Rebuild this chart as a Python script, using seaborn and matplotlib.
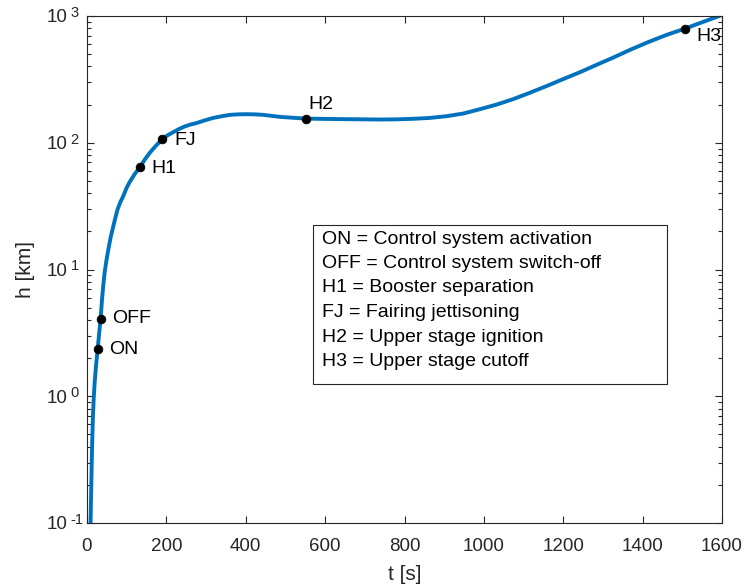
import numpy as np
import pandas as pd
import matplotlib
matplotlib.use("Agg")
import matplotlib.pyplot as plt
import matplotlib.ticker as mticker
from matplotlib.patches import Rectangle
import seaborn as sns

# ---- data ----
t_curve = [9, 10, 11, 12.6, 15, 17, 19.3, 23, 26.9, 30.5, 34.4, 37.8, 41, 44.5,
           49, 53.8, 60, 66.4, 72, 77.3, 84, 91.5, 99, 106.7, 120, 133.5, 146,
           158.7, 174, 189.8, 203, 217, 230, 245, 260, 276, 296, 318, 340, 360,
           380, 402, 423, 444, 465, 486, 518, 552, 582, 612, 654, 696, 738,
           780, 822, 864, 906, 948, 990, 1032, 1074, 1116, 1158, 1200, 1242,
           1284, 1326, 1368, 1410, 1458, 1507, 1551, 1595]
h_curve = [0.10, 0.15, 0.21, 0.38, 0.70, 0.97, 1.28, 1.78, 2.35, 3.1, 4.10, 5.8,
           7.5, 9.5, 11.8, 14.4, 18.2, 22, 26, 30, 34, 38, 43.5, 48.5, 56.5,
           64.4, 74, 83.7, 95, 106.6, 114.5, 121, 127.5, 134, 139, 143, 150,
           157, 162, 166, 167.5, 168, 167.5, 166, 163, 160, 157.5, 155, 154.5,
           154, 153.5, 153, 152.5, 153, 154.5, 157, 162, 170, 184, 200, 221,
           248, 280, 318, 360, 412, 470, 540, 615, 705, 796, 895, 1005]

event_names = ["ON", "OFF", "H1", "FJ", "H2", "H3"]
event_t = [26.9, 34.4, 133.5, 189.8, 552, 1507]
event_h = [2.35, 4.10, 64.4, 106.6, 155, 796]

legend_lines = ["ON = Control system activation",
                "OFF = Control system switch-off",
                "H1 = Booster separation",
                "FJ = Fairing jettisoning",
                "H2 = Upper stage ignition",
                "H3 = Upper stage cutoff"]

x_ticks = [0, 200, 400, 600, 800, 1000, 1200, 1400, 1600]
y_ticks = [0.1, 1, 10, 100, 1000]
y_exponents = ["-1", "0", "1", "2", "3"]

# ---- style ----
sns.set_style("ticks")
plt.rcParams["font.family"] = ["Liberation Sans", "DejaVu Sans"]
plt.rcParams["xtick.direction"] = "in"
plt.rcParams["ytick.direction"] = "in"

fig = plt.figure(figsize=(7.51, 5.88), dpi=100)
ax = fig.add_axes([87 / 751, 1 - 523 / 588, 635 / 751, 507 / 588])

curve = pd.DataFrame({"t": t_curve, "h": h_curve})
events = pd.DataFrame({"t": event_t, "h": event_h, "name": event_names})

sns.lineplot(data=curve, x="t", y="h", ax=ax, color="#0072BD", lw=2.8,
             sort=False, zorder=2)
sns.scatterplot(data=events, x="t", y="h", ax=ax, color="black", s=40,
                edgecolor="black", linewidth=0.5, zorder=3)

ax.set_yscale("log")
ax.set_xlim(0, 1600)
ax.set_ylim(0.1, 1000)
ax.set_xticks(x_ticks)
ax.set_xticklabels([str(v) for v in x_ticks])
ax.set_yticks(y_ticks)
ax.set_yticklabels([])
ax.yaxis.set_minor_locator(mticker.LogLocator(base=10, subs=np.arange(2, 10), numticks=20))
ax.yaxis.set_minor_formatter(mticker.NullFormatter())

tc = "#262626"
ax.tick_params(which="both", top=True, right=True, colors=tc, labelcolor=tc,
               labelsize=13.5, width=0.8)
ax.tick_params(which="major", length=5)
ax.tick_params(which="minor", length=3)
ax.tick_params(axis="x", which="major", pad=11)
for sp in ax.spines.values():
    sp.set_color(tc)
    sp.set_linewidth(0.8)
    sp.set_visible(True)

# y tick labels: "10" with raised exponent
ytr = ax.get_yaxis_transform()
for val, ex in zip(y_ticks, y_exponents):
    ax.annotate("10", xy=(0, val), xycoords=ytr, xytext=(-14, -1.3),
                textcoords="offset points", ha="right", va="center",
                fontsize=13.5, color=tc, annotation_clip=False)
    ax.annotate(ex, xy=(0, val), xycoords=ytr, xytext=(-11.9, 2.2),
                textcoords="offset points", ha="left", va="center",
                fontsize=10.5, color=tc, annotation_clip=False)

ax.set_xlabel("t [s]", fontsize=15, color=tc, labelpad=7)
ax.set_ylabel("h [km]", fontsize=15, color=tc, labelpad=34)

# event labels
offsets = {"ON": (8.4, 0), "OFF": (8.4, 0), "H1": (8.4, -1), "FJ": (8.4, -1),
           "H2": (1.5, 10), "H3": (8.4, -5.5)}
for n, tt, hh in zip(event_names, event_t, event_h):
    dx, dy = offsets[n]
    ax.annotate(n, (tt, hh), xytext=(dx, dy), textcoords="offset points",
                fontsize=14, color="black", ha="left", va="center")

# text box
x0, x1 = (313 - 87) / 635, (667 - 87) / 635
y0, y1 = (523 - 384) / 507, (523 - 225) / 507
ax.add_patch(Rectangle((x0, y0), x1 - x0, y1 - y0, transform=ax.transAxes,
                       facecolor="white", edgecolor=tc, lw=0.8, zorder=4))
line_y = [239, 263.5, 288, 312.5, 337, 361.5]
for txt, yy in zip(legend_lines, line_y):
    ax.text((322 - 87) / 635, (523 - yy) / 507, txt, transform=ax.transAxes,
            fontsize=14, color="black", ha="left", va="center", zorder=5)

ax.set_facecolor("white")
fig.patch.set_facecolor("white")
fig.savefig("out.png", dpi=100)
